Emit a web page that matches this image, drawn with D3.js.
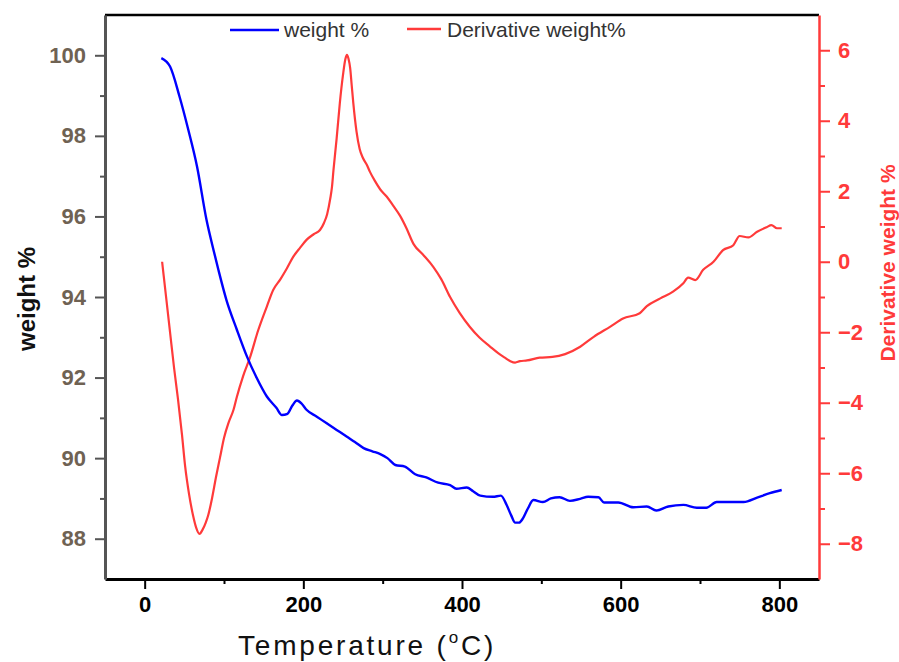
<!DOCTYPE html>
<html>
<head>
<meta charset="utf-8">
<script src="https://cdn.jsdelivr.net/npm/d3@7"></script>
<style>
  html, body { margin: 0; padding: 0; background: #fff; }
  svg { display: block; font-family: "Liberation Sans", Arial, sans-serif; }
</style>
</head>
<body>
<svg id="chart" width="899" height="662"></svg>
<script>
// TGA run: residual weight and its derivative versus temperature
const weightTemps = [21, 32, 44, 55, 66, 78, 87, 93, 103, 116, 129, 141, 154, 166, 173, 180, 186, 192, 198, 204,
  217, 229, 242, 255, 265, 276, 287, 297, 306, 316, 328, 341, 355, 370, 385, 393, 406, 414, 423, 439,
  449, 456, 462, 467, 472, 477, 483, 490, 502, 512, 523, 536, 549, 559, 572, 579, 597, 616, 633, 645,
  660, 679, 696, 708, 721, 755, 772, 788, 803];
const weightValues = [99.93, 99.72, 98.97, 98.15, 97.24, 95.91, 95.15, 94.67, 93.93, 93.2, 92.52, 92.0, 91.53, 91.25, 91.07, 91.1, 91.3, 91.43, 91.35, 91.2,
  91.03, 90.87, 90.70, 90.53, 90.40, 90.25, 90.17, 90.10, 90.0, 89.83, 89.79, 89.60, 89.52, 89.39, 89.33, 89.24, 89.27, 89.18, 89.07, 89.04,
  89.07, 88.85, 88.58, 88.40, 88.40, 88.51, 88.75, 88.96, 88.91, 89.0, 89.03, 88.94, 88.99, 89.04, 89.03, 88.90, 88.90, 88.78, 88.80, 88.70,
  88.80, 88.84, 88.77, 88.77, 88.91, 88.91, 89.02, 89.13, 89.21];

const derivTemps = [22, 24, 27, 32, 37, 42, 47, 51, 56, 61, 65, 69, 73, 77, 80, 85, 90, 95, 100, 106,
  112, 116, 124, 133, 143, 154, 162, 171, 179, 187, 196, 204, 213, 221, 226, 230, 234, 236, 238, 242,
  246, 250, 253, 255, 257, 259, 261, 263, 267, 271, 275, 280, 284, 290, 297, 305, 313, 322, 330, 339,
  351, 364, 374, 385, 397, 410, 422, 435, 446, 454, 461, 467, 473, 482, 498, 514, 530, 549, 566, 587,
  603, 624, 633, 650, 666, 679, 685, 694, 704, 717, 729, 742, 750, 761, 772, 784, 790, 797, 803];
const derivValues = [0.0, -0.4, -1.0, -2.0, -3.0, -3.9, -4.9, -5.8, -6.6, -7.2, -7.55, -7.72, -7.6, -7.4, -7.2, -6.7, -6.1, -5.55, -5.0, -4.55,
  -4.2, -3.85, -3.25, -2.7, -1.95, -1.27, -0.8, -0.5, -0.2, 0.13, 0.4, 0.62, 0.78, 0.90, 1.1, 1.35, 1.8, 2.1, 2.6, 3.5,
  4.5, 5.3, 5.75, 5.87, 5.75, 5.5, 5.0, 4.5, 3.7, 3.2, 2.95, 2.75, 2.55, 2.3, 2.05, 1.85, 1.6, 1.3, 0.95, 0.5,
  0.2, -0.15, -0.5, -1.0, -1.45, -1.85, -2.15, -2.4, -2.6, -2.72, -2.82, -2.86, -2.82, -2.8, -2.72, -2.7, -2.62, -2.41, -2.13, -1.84,
  -1.61, -1.46, -1.26, -1.04, -0.85, -0.61, -0.45, -0.52, -0.23, 0.0, 0.33, 0.47, 0.73, 0.69, 0.85, 0.98, 1.04, 0.95, 0.95];

const xTicks = [0, 200, 400, 600, 800];
const xMinorTicks = [100, 300, 500, 700];
const weightTicks = [88, 90, 92, 94, 96, 98, 100];
const weightMinorTicks = [89, 91, 93, 95, 97, 99];
const derivTicks = [-8, -6, -4, -2, 0, 2, 4, 6];
const derivMinorTicks = [-7, -5, -3, -1, 1, 3, 5];

const seriesNames = ["weight %", "Derivative weight%"];
const xTitle = "Temperature (";
const yLeftTitle = "weight %";
const yRightTitle = "Derivative weight %";

const BLUE = "#0000ff";
const RED = "#ff3a3a";
const LEFT_AXIS = "#555555";
const LEFT_LABEL = "#6f6253";
const FONT = "Liberation Sans, Arial, sans-serif";

const plot = { left: 105, right: 819, top: 15, bottom: 579 };

const svg = d3.select("#chart");

const x = d3.scaleLinear().domain([-50, 850]).range([plot.left, plot.right]);
const yW = d3.scaleLinear().domain([87, 101]).range([plot.bottom, plot.top]);
const yD = d3.scaleLinear().domain([-9, 7]).range([plot.bottom, plot.top]);

// top frame line
svg.append("line")
  .attr("x1", plot.left).attr("x2", plot.right)
  .attr("y1", plot.top).attr("y2", plot.top)
  .attr("stroke", "#000").attr("stroke-width", 2.5);

function styleAxis(g, color, width) {
  g.select(".domain").attr("stroke", color).attr("stroke-width", width);
  g.selectAll(".tick line").attr("stroke", color).attr("stroke-width", 2);
}

function minorAxis(axis, transform, color) {
  const g = svg.append("g").attr("transform", transform).call(axis);
  g.select(".domain").remove();
  g.selectAll(".tick line").attr("stroke", color).attr("stroke-width", 2);
  return g;
}

// bottom axis
minorAxis(d3.axisBottom(x).tickValues(xMinorTicks).tickSize(5).tickFormat(""),
  `translate(0,${plot.bottom})`, "#000");
const gx = svg.append("g").attr("transform", `translate(0,${plot.bottom})`)
  .call(d3.axisBottom(x).tickValues(xTicks).tickSize(10).tickSizeOuter(0).tickPadding(7).tickFormat(d3.format("d")));
styleAxis(gx, "#000", 3);
gx.selectAll(".tick text")
  .attr("fill", "#000").attr("font-size", 22).attr("font-weight", "bold").attr("font-family", FONT);

// left axis (weight)
minorAxis(d3.axisLeft(yW).tickValues(weightMinorTicks).tickSize(5).tickFormat(""),
  `translate(${plot.left},0)`, LEFT_AXIS);
const gy = svg.append("g").attr("transform", `translate(${plot.left},0)`)
  .call(d3.axisLeft(yW).tickValues(weightTicks).tickSize(10).tickSizeOuter(0).tickPadding(9).tickFormat(d3.format("d")));
styleAxis(gy, LEFT_AXIS, 3);
gy.selectAll(".tick text")
  .attr("fill", LEFT_LABEL).attr("font-size", 22).attr("font-weight", "bold").attr("font-family", FONT);

// right axis (derivative)
minorAxis(d3.axisRight(yD).tickValues(derivMinorTicks).tickSize(6).tickFormat(""),
  `translate(${plot.right},0)`, RED);
const gr = svg.append("g").attr("transform", `translate(${plot.right},0)`)
  .call(d3.axisRight(yD).tickValues(derivTicks).tickSize(11).tickSizeOuter(0).tickPadding(8).tickFormat(d3.format("d")));
styleAxis(gr, RED, 2.5);
gr.selectAll(".tick text")
  .attr("fill", RED).attr("font-size", 22).attr("font-weight", "bold").attr("font-family", FONT);

// curves
const weightData = weightTemps.map((t, i) => [t, weightValues[i]]);
const derivData = derivTemps.map((t, i) => [t, derivValues[i]]);

svg.append("path").datum(derivData)
  .attr("fill", "none").attr("stroke", RED).attr("stroke-width", 2.2)
  .attr("stroke-linejoin", "round")
  .attr("d", d3.line().x(d => x(d[0])).y(d => yD(d[1])).curve(d3.curveMonotoneX));

svg.append("path").datum(weightData)
  .attr("fill", "none").attr("stroke", BLUE).attr("stroke-width", 2.4)
  .attr("stroke-linejoin", "round")
  .attr("d", d3.line().x(d => x(d[0])).y(d => yW(d[1])).curve(d3.curveMonotoneX));

// legend
const legend = svg.append("g");
legend.append("line").attr("x1", 230).attr("x2", 279).attr("y1", 30).attr("y2", 30)
  .attr("stroke", BLUE).attr("stroke-width", 2.5);
legend.append("text").attr("x", 284).attr("y", 37).attr("font-size", 21).attr("fill", "#333")
  .text(seriesNames[0]);
legend.append("line").attr("x1", 407).attr("x2", 441).attr("y1", 29).attr("y2", 29)
  .attr("stroke", RED).attr("stroke-width", 2.5);
legend.append("text").attr("x", 447).attr("y", 37).attr("font-size", 21).attr("fill", "#333")
  .text(seriesNames[1]);

// axis titles
const xt = svg.append("text").attr("x", 238).attr("y", 655)
  .attr("font-size", 28).attr("fill", "#111").attr("letter-spacing", 2.8);
xt.append("tspan").text(xTitle);
xt.append("tspan").attr("font-size", 17).attr("dy", -12).text("o");
xt.append("tspan").attr("dy", 12).text("C)");

svg.append("text")
  .attr("transform", "translate(35,299) rotate(-90)")
  .attr("text-anchor", "middle").attr("font-size", 24).attr("font-weight", "bold").attr("fill", "#111")
  .text(yLeftTitle);

svg.append("text")
  .attr("transform", "translate(895,263) rotate(-90)")
  .attr("text-anchor", "middle").attr("font-size", 21).attr("font-weight", "bold").attr("fill", RED)
  .text(yRightTitle);
</script>
</body>
</html>
